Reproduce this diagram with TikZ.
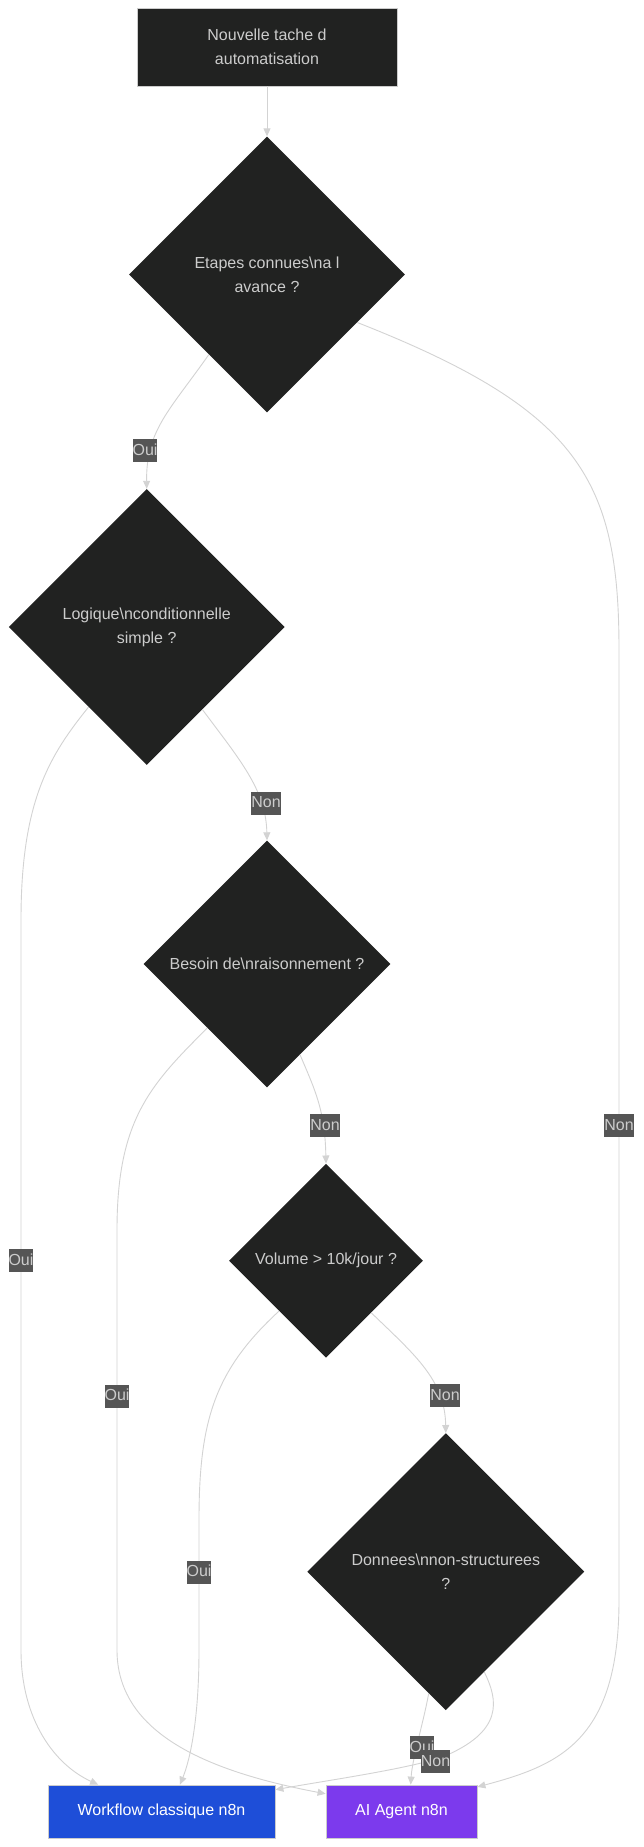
\documentclass[tikz,border=0pt]{standalone}
\usepackage{fontspec}
\setmainfont{Liberation Sans}
\usetikzlibrary{shapes.geometric,arrows.meta,calc}
\definecolor{nodefill}{RGB}{33,34,33}
\definecolor{nodetext}{RGB}{204,204,204}
\definecolor{edgecol}{RGB}{211,211,211}
\definecolor{labfill}{RGB}{85,85,85}
\definecolor{wfblue}{RGB}{30,78,216}
\definecolor{agentviolet}{RGB}{124,58,237}
\begin{document}
\begin{tikzpicture}[x=1pt,y=-1pt,
  every node/.style={font=\fontsize{16}{24}\selectfont},
  procbox/.style={rectangle, draw=nodetext, line width=0.8pt, fill=nodefill,
    text=nodetext, align=center, inner sep=0pt},
  decision/.style={diamond, aspect=1, fill=nodefill, text=nodetext,
    align=center, inner sep=0pt},
  outcome/.style={rectangle, draw=nodetext, line width=0.8pt, text=white,
    inner sep=0pt, minimum height=53pt},
  edgelab/.style={fill=labfill, text=nodetext, inner xsep=0pt, inner ysep=4pt,
    text height=12pt, text depth=3pt},
  flow/.style={draw=edgecol, line width=0.9pt, -{Triangle[length=8pt,width=7pt]}}
]
\useasboundingbox[fill=white] (0,0) rectangle (643,1847);

% nodes
\node[procbox, minimum width=260pt, minimum height=78pt] (start) at (267,47)
  {Nouvelle tache d\\automatisation};
\node[decision, minimum width=276pt, minimum height=276pt] (d1) at (267,274.5)
  {Etapes connues\textbackslash na l\\avance ?};
\node[decision, minimum width=276pt, minimum height=276pt] (d2) at (146.7,627)
  {Logique\textbackslash nconditionnelle\\simple ?};
\node[decision, minimum width=247pt, minimum height=247pt] (d3) at (267,964)
  {Besoin de\textbackslash nraisonnement ?};
\node[decision, minimum width=194pt, minimum height=194pt] (d4) at (326,1260.7)
  {Volume > 10k/jour ?};
\node[decision, minimum width=277pt, minimum height=277pt] (d5) at (445.8,1571.7)
  {Donnees\textbackslash nnon-structurees\\?};
\node[outcome, fill=wfblue, minimum width=227pt] (wf) at (161.5,1811.5)
  {Workflow classique n8n};
\node[outcome, fill=agentviolet, minimum width=151pt] (agent) at (401.5,1811.5)
  {AI Agent n8n};

% connectors
\draw[flow] (start.south) -- (d1.north);
\draw[flow] (d1.234) .. controls (170,410) and (146,430) .. (d2.north);
\draw[flow] (d1.332) .. controls (580,410) and (619,480) .. (619,650)
  -- (619,1600) .. controls (619,1740) and (560,1765)
  .. ($(agent.north east)!0.043!(agent.south east)$);
\draw[flow] (d2.234) .. controls (50,755) and (21,800) .. (21,920)
  -- (21,1650) .. controls (21,1720) and (55,1765)
  .. ($(wf.north west)!0.222!(wf.north east)$);
\draw[flow] (d2.304) .. controls (240,760) and (266,790) .. (d3.north);
\draw[flow] (d3.227) .. controls (150,1085) and (117,1120) .. (117,1230)
  -- (117,1650) .. controls (117,1730) and (200,1770)
  .. ($(agent.north west)!0.17!(agent.south west)$);
\draw[flow] (d3.290) .. controls (315,1090) and (325,1110) .. (d4.north);
\draw[flow] (d4.227) .. controls (215,1370) and (199,1420) .. (199,1520)
  -- (199,1650) .. controls (199,1720) and (190,1760)
  .. ($(wf.north west)!0.581!(wf.north east)$);
\draw[flow] (d4.311) .. controls (415,1355) and (445,1380) .. (d5.north);
\draw[flow] (d5.262) .. controls (424,1720) and (412,1760)
  .. ($(agent.north west)!0.561!(agent.north east)$);
\draw[flow] (d5.291) .. controls (498,1700) and (505,1732) .. (440,1758)
  .. controls (400,1770) and (330,1780)
  .. ($(wf.north east)!0.094!(wf.south east)$);

% connector labels
\node[edgelab] (l1) at (145,450.5) {Oui};
\node[edgelab] (l2) at (619,1125.7) {Non};
\node[edgelab] (l3) at (21,1260.7) {Oui};
\node[edgelab] (l4) at (266,803) {Non};
\node[edgelab] (l5) at (117,1396) {Oui};
\node[edgelab] (l6) at (325,1125.7) {Non};
\node[edgelab] (l7) at (199,1572) {Oui};
\node[edgelab] (l8) at (445,1395.5) {Non};
\node[edgelab] (l9) at (422,1747.7) {Oui};
\node[edgelab] (l10) at (435.5,1761.7) {Non};
\end{tikzpicture}
\end{document}
